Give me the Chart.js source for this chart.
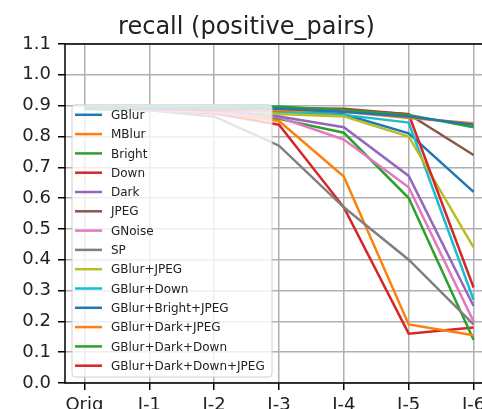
<!DOCTYPE html>
<html lang="en">
  <head>
    <meta charset="utf-8" />
    <title>recall (positive_pairs)</title>
    <style>
      body {
        margin: 0;
        overflow: hidden;
        background-color: white;
      }
    </style>
  </head>
  <body>
    <canvas id="chart" width="536" height="440"></canvas>
    <script src="https://cdn.jsdelivr.net/npm/chart.js"></script>
    <script>
      const labels = ["Orig", "I-1", "I-2", "I-3", "I-4", "I-5", "I-6"];
      const yTicks = [0, 0.1, 0.2, 0.3, 0.4, 0.5, 0.6, 0.7, 0.8, 0.9, 1.0, 1.1];

      const names = [
        "GBlur", "MBlur", "Bright", "Down", "Dark", "JPEG", "GNoise", "SP",
        "GBlur+JPEG", "GBlur+Down", "GBlur+Bright+JPEG", "GBlur+Dark+JPEG",
        "GBlur+Dark+Down", "GBlur+Dark+Down+JPEG",
      ];

      const gblur = [0.89, 0.89, 0.89, 0.89, 0.88, 0.865, 0.838];
      const mblur = [0.89, 0.89, 0.89, 0.885, 0.88, 0.86, 0.843];
      const bright = [0.895, 0.895, 0.895, 0.897, 0.885, 0.87, 0.83];
      const down = [0.89, 0.89, 0.885, 0.885, 0.886, 0.872, 0.31];
      const dark = [0.89, 0.89, 0.885, 0.865, 0.83, 0.672, 0.25];
      const jpeg = [0.89, 0.89, 0.89, 0.892, 0.89, 0.872, 0.74];
      const gnoise = [0.89, 0.885, 0.88, 0.862, 0.79, 0.635, 0.2];
      const sp = [0.89, 0.885, 0.865, 0.77, 0.57, 0.4, 0.19];
      const gblurJpeg = [0.89, 0.89, 0.885, 0.873, 0.865, 0.8, 0.44];
      const gblurDown = [0.89, 0.89, 0.885, 0.88, 0.87, 0.845, 0.27];
      const gblurBrightJpeg = [0.89, 0.89, 0.885, 0.885, 0.872, 0.81, 0.62];
      const gblurDarkJpeg = [0.89, 0.885, 0.88, 0.85, 0.67, 0.19, 0.155];
      const gblurDarkDown = [0.89, 0.89, 0.885, 0.857, 0.812, 0.6, 0.14];
      const gblurDarkDownJpeg = [0.89, 0.885, 0.875, 0.838, 0.57, 0.16, 0.18];

      const series = [
        gblur, mblur, bright, down, dark, jpeg, gnoise, sp,
        gblurJpeg, gblurDown, gblurBrightJpeg, gblurDarkJpeg,
        gblurDarkDown, gblurDarkDownJpeg,
      ];

      // matplotlib tab10, wraps around after 10
      const tab10 = [
        "#1f77b4", "#ff7f0e", "#2ca02c", "#d62728", "#9467bd",
        "#8c564b", "#e377c2", "#7f7f7f", "#bcbd22", "#17becf",
      ];

      const family = "DejaVu Sans";
      const textColor = "#222";

      // spines + legend box inside the axes, like plt.legend()
      const frameLegend = {
        id: "frameLegend",
        afterDatasetsDraw(chart) {
          const { ctx, chartArea: a } = chart;
          ctx.save();
          ctx.strokeStyle = "#000";
          ctx.lineWidth = 1.5;
          ctx.strokeRect(a.left, a.top, a.right - a.left, a.bottom - a.top);

          const sets = chart.data.datasets;
          const rowH = 19.3;
          const x0 = a.left + 7;
          const w = 200;
          const h = sets.length * rowH + 2;
          const y0 = a.bottom - 6 - h;

          ctx.beginPath();
          ctx.roundRect(x0, y0, w, h, 3);
          ctx.fillStyle = "rgba(255,255,255,0.8)";
          ctx.fill();
          ctx.strokeStyle = "#d0d0d0";
          ctx.lineWidth = 1;
          ctx.stroke();

          ctx.font = "12px '" + family + "'";
          ctx.textBaseline = "middle";
          ctx.fillStyle = textColor;
          sets.forEach((ds, i) => {
            const y = y0 + 10 + i * rowH;
            ctx.beginPath();
            ctx.moveTo(x0 + 3, y);
            ctx.lineTo(x0 + 30, y);
            ctx.strokeStyle = ds.borderColor;
            ctx.lineWidth = 2.5;
            ctx.stroke();
            ctx.fillText(ds.label, x0 + 39, y + 1);
          });
          ctx.restore();
        },
      };

      const grid = {
        color: "#b0b0b0",
        lineWidth: 1.5,
        tickColor: "#000",
        tickLength: 7,
        tickWidth: 1.5,
      };

      new Chart(document.getElementById("chart"), {
        type: "line",
        data: {
          datasets: names.map((name, i) => ({
            label: name,
            data: series[i].map((v, j) => ({ x: j, y: v })),
            borderColor: tab10[i % 10],
            backgroundColor: tab10[i % 10],
            borderWidth: 2.5,
            pointRadius: 0,
            tension: 0,
            fill: false,
          })),
        },
        options: {
          responsive: false,
          animation: false,
          layout: { padding: { left: 0, right: 43, top: 0, bottom: 0 } },
          plugins: {
            legend: { display: false },
            tooltip: { enabled: false },
            title: {
              display: true,
              text: "recall (positive_pairs)",
              color: textColor,
              font: { family, size: 24, weight: "normal", lineHeight: 1 },
              padding: { top: 16, bottom: 4 },
            },
          },
          scales: {
            x: {
              type: "linear",
              min: -0.3,
              max: 6.3,
              afterBuildTicks: (s) => {
                s.ticks = labels.map((_, i) => ({ value: i }));
              },
              afterFit: (s) => {
                s.height = 57;
              },
              ticks: {
                callback: (v, i) => labels[i],
                autoSkip: false,
                maxRotation: 0,
                padding: 5,
                color: textColor,
                font: { family, size: 18 },
              },
              grid,
              border: { display: false },
            },
            y: {
              min: 0,
              max: 1.1,
              afterBuildTicks: (s) => {
                s.ticks = yTicks.map((v) => ({ value: v }));
              },
              afterFit: (s) => {
                s.width = 65;
              },
              ticks: {
                callback: (v) => v.toFixed(1),
                padding: 7,
                color: textColor,
                font: { family, size: 18 },
              },
              grid,
              border: { display: false },
            },
          },
        },
        plugins: [frameLegend],
      });
    </script>
  </body>
</html>
